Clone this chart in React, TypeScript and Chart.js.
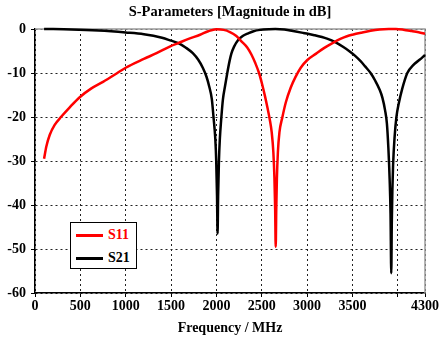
import React, { useEffect, useRef } from 'react';
import { Chart, registerables } from 'chart.js';

Chart.register(...registerables);

// S11 (red) frequency points in MHz and magnitude in dB
const s11Freq = [100, 125, 162, 217, 291, 383, 493, 622, 750, 900, 1000, 1200, 1340, 1485, 1580, 1700, 1820, 1910, 2000, 2080, 2150, 2220, 2276, 2340, 2386, 2430, 2470, 2505, 2535, 2562, 2588, 2610, 2628, 2640, 2648, 2654, 2660, 2667, 2678, 2695, 2728, 2765, 2820, 2870, 2930, 3000, 3100, 3190, 3280, 3373, 3440, 3500, 3594, 3700, 3800, 3900, 3980, 4060, 4150, 4230, 4300];
const s11Db = [-29.5, -26.7, -24.1, -21.8, -19.9, -17.8, -15.5, -13.5, -12.0, -10.1, -8.8, -6.8, -5.5, -4.0, -3.2, -2.2, -1.3, -0.5, -0.05, -0.2, -0.7, -1.6, -2.8, -4.2, -5.8, -7.8, -10, -12.6, -15.2, -17.8, -20.5, -23.5, -28, -34, -41, -49.5, -41, -34, -28, -23.5, -20, -16.7, -13.3, -11, -8.8, -7.1, -5.6, -4.3, -3.2, -2.2, -1.65, -1.3, -0.85, -0.4, -0.12, -0.01, 0, -0.15, -0.45, -0.75, -1.1];

// S21 (black)
const s21Freq = [100, 400, 700, 1000, 1200, 1400, 1500, 1580, 1660, 1740, 1800, 1850, 1890, 1920, 1950, 1968, 1988, 1998, 2007, 2013, 2019, 2028, 2038, 2055, 2072, 2095, 2120, 2145, 2165, 2195, 2240, 2290, 2350, 2410, 2480, 2580, 2650, 2750, 2860, 2960, 3080, 3220, 3320, 3400, 3470, 3530, 3590, 3640, 3700, 3750, 3800, 3830, 3860, 3880, 3896, 3910, 3920, 3928, 3934, 3940, 3948, 3965, 3985, 4010, 4050, 4105, 4170, 4240, 4300];
const s21Db = [0, -0.1, -0.35, -0.8, -1.2, -2.0, -2.65, -3.2, -4.2, -5.5, -7, -8.8, -10.8, -13, -16, -20, -25, -30, -38, -46.5, -38, -30, -25, -20, -16, -13, -10, -7.3, -5.6, -4, -2.5, -1.6, -1, -0.5, -0.2, -0.03, 0, -0.1, -0.5, -0.9, -1.4, -2.2, -3.1, -4.1, -5.1, -6.1, -7.3, -8.5, -10, -11.7, -13.8, -15.6, -18.5, -21.5, -27, -34, -42, -55.5, -44, -37, -31, -24.5, -20, -17, -13.5, -10, -8.2, -7, -5.9];

const xTickValues = [0, 500, 1000, 1500, 2000, 2500, 3000, 3500, 4000, 4300];
const xTickLabels = ['0', '500', '1000', '1500', '2000', '2500', '3000', '3500', '', '4300'];
const yTickValues = [0, -10, -20, -30, -40, -50, -60];

const seriesNames = ['S11', 'S21'];
const seriesColors = ['#ff0000', '#000000'];

const FONT = "'Liberation Serif', 'Times New Roman', serif";

const frameBorder = {
  id: 'frameBorder',
  beforeDatasetsDraw(chart: any) {
    const { ctx, chartArea } = chart;
    ctx.save();
    ctx.strokeStyle = '#9a9a9a';
    ctx.lineWidth = 1.5;
    ctx.beginPath();
    ctx.moveTo(chartArea.left, chartArea.top);
    ctx.lineTo(chartArea.right, chartArea.top);
    ctx.lineTo(chartArea.right, chartArea.bottom);
    ctx.stroke();
    ctx.restore();
  },
};

export default function App() {
  const canvasRef = useRef<HTMLCanvasElement | null>(null);

  useEffect(() => {
    if (!canvasRef.current) return;
    const chart = new Chart(canvasRef.current, {
      type: 'line',
      data: {
        datasets: [
          {
            label: seriesNames[0],
            data: s11Freq.map((f, i) => ({ x: f, y: s11Db[i] })),
            borderColor: seriesColors[0],
            borderWidth: 2.5,
            pointRadius: 0,
            cubicInterpolationMode: 'monotone',
            clip: false,
          },
          {
            label: seriesNames[1],
            data: s21Freq.map((f, i) => ({ x: f, y: s21Db[i] })),
            borderColor: seriesColors[1],
            borderWidth: 2.5,
            pointRadius: 0,
            cubicInterpolationMode: 'monotone',
            clip: false,
          },
        ],
      },
      options: {
        responsive: false,
        animation: false,
        layout: { padding: { left: 0, right: 14, top: 0, bottom: 0 } },
        plugins: {
          legend: { display: false },
          tooltip: { enabled: false },
          title: {
            display: true,
            fullSize: false,
            text: 'S-Parameters [Magnitude in dB]',
            color: '#000',
            font: { family: FONT, size: 14.5, weight: 'bold' },
            padding: { top: 4, bottom: 7.6 },
          },
        },
        scales: {
          x: {
            type: 'linear',
            min: 0,
            max: 4300,
            afterBuildTicks: (scale: any) => {
              scale.ticks = xTickValues.map((v) => ({ value: v }));
            },
            afterFit: (scale: any) => {
              scale.height = 48;
              scale.paddingLeft = 0;
              scale.paddingRight = 0;
            },
            ticks: {
              autoSkip: false,
              maxRotation: 0,
              padding: 1,
              color: '#000',
              font: { family: FONT, size: 14, weight: 'bold' },
              callback: (v: any) => {
                const i = xTickValues.indexOf(Number(v));
                return i >= 0 ? xTickLabels[i] : '';
              },
            },
            grid: {
              color: '#222',
              lineWidth: 1,
              tickLength: 4,
              tickColor: '#000',
              tickBorderDash: [],
            },
            border: { display: true, color: '#000', width: 1.5, dash: [2, 3] },
            title: {
              display: true,
              text: 'Frequency / MHz',
              color: '#000',
              font: { family: FONT, size: 14, weight: 'bold' },
              padding: { top: 0, bottom: 4 },
            },
          },
          y: {
            type: 'linear',
            min: -60,
            max: 0,
            afterBuildTicks: (scale: any) => {
              scale.ticks = yTickValues.map((v) => ({ value: v }));
            },
            afterFit: (scale: any) => {
              scale.width = 35;
            },
            ticks: {
              padding: 5,
              color: '#000',
              font: { family: FONT, size: 14, weight: 'bold' },
            },
            grid: {
              color: '#222',
              lineWidth: 1,
              tickLength: 4,
              tickColor: '#000',
              tickBorderDash: [],
            },
            border: { display: true, color: '#000', width: 1.5, dash: [2, 3] },
          },
        },
      },
      plugins: [frameBorder],
    } as any);
    return () => chart.destroy();
  }, []);

  const rowStyle = (top: number): React.CSSProperties => ({
    position: 'absolute',
    left: 0,
    top,
    height: 18,
    width: '100%',
  });

  return (
    <div style={{ position: 'fixed', left: 0, top: 0, width: 439, height: 341, background: '#fff' }}>
      <canvas ref={canvasRef} width={439} height={341} style={{ width: 439, height: 341, display: 'block' }} />
      <div
        style={{
          position: 'absolute',
          left: 70,
          top: 222,
          width: 67,
          height: 47,
          boxSizing: 'border-box',
          border: '1.5px solid #000',
          background: '#fff',
          fontFamily: FONT,
          fontWeight: 'bold',
          fontSize: 14,
        }}
      >
        {seriesNames.map((name, i) => (
          <div key={name} style={rowStyle(i === 0 ? 3 : 26)}>
            <div
              style={{
                position: 'absolute',
                left: 5,
                top: 8,
                width: 27,
                height: 2.5,
                background: seriesColors[i],
              }}
            />
            <span
              style={{
                position: 'absolute',
                left: 37,
                top: 0,
                lineHeight: '18px',
                color: seriesColors[i],
              }}
            >
              {name}
            </span>
          </div>
        ))}
      </div>
    </div>
  );
}
